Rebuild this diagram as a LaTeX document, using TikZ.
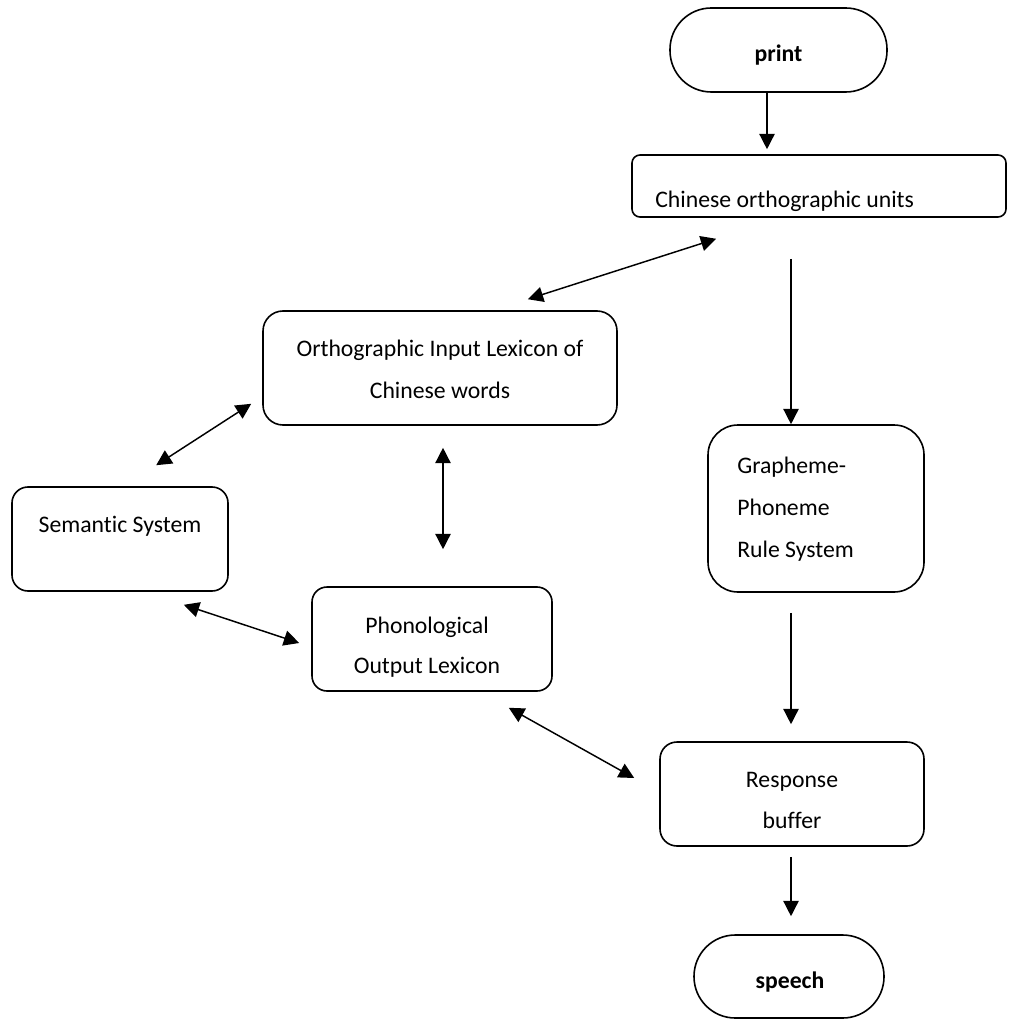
\documentclass[tikz,border=0pt]{standalone}
\usepackage{fontspec}
\setmainfont[Ligatures=NoCommon]{Carlito}
\usetikzlibrary{arrows.meta,calc}
\begin{document}
\begin{tikzpicture}[x=0.75pt,y=-0.75pt,
  box/.style={draw, line width=1.2pt, inner sep=0pt},
  txt/.style={inner sep=0pt, anchor=base, font=\fontsize{17.8}{21}\selectfont},
  txtl/.style={txt, anchor=base west},
  btxt/.style={txt, font=\fontsize{17.8}{21}\selectfont\bfseries},
  arr/.style={line width=1.1pt, -{Triangle[length=11.5pt,width=11.5pt]}},
  dbl/.style={line width=1.1pt, {Triangle[length=11.5pt,width=11.5pt]}-{Triangle[length=11.5pt,width=11.5pt]}}
]
\useasboundingbox (0,0) rectangle (1008,1019);
\fill[white] (0,0) rectangle (1008,1019);

% boxes
\node[box, rounded corners=31pt, minimum width=162.75pt, minimum height=63pt] (print) at (778.5,50) {};
\node[box, rounded corners=6pt, minimum width=280.5pt, minimum height=46.5pt] (cou) at (819,186) {};
\node[box, rounded corners=15pt, minimum width=265.5pt, minimum height=85.5pt] (oil) at (440,368) {};
\node[box, rounded corners=12pt, minimum width=162pt, minimum height=78pt] (sem) at (120,539) {};
\node[box, rounded corners=11.25pt, minimum width=180pt, minimum height=78pt] (phon) at (432,639) {};
\node[box, rounded corners=22.5pt, minimum width=162pt, minimum height=125.25pt] (gpc) at (816,508.5) {};
\node[box, rounded corners=12.75pt, minimum width=198pt, minimum height=78pt] (rb) at (792,794) {};
\node[box, rounded corners=31pt, minimum width=142.5pt, minimum height=62.25pt] (speech) at (789,976.5) {};

% texts
\node[btxt] (printT) at (778.5,62) {print};
\node[txtl] (couT) at (655,208) {Chinese orthographic units};
\node[txt] (oilT1) at (440,357) {Orthographic Input Lexicon of};
\node[txt] (oilT2) at (440,398) {Chinese words};
\node[txt] (semT) at (120,532) {Semantic System};
\node[txt] (phonT1) at (427,633) {Phonological};
\node[txt] (phonT2) at (427,673) {Output Lexicon};
\node[txtl] (gpcT1) at (737,473) {Grapheme-};
\node[txtl] (gpcT2) at (737,515) {Phoneme};
\node[txtl] (gpcT3) at (737,557) {Rule System};
\node[txt] (rbT1) at (792,787) {Response};
\node[txt] (rbT2) at (792,828) {buffer};
\node[btxt] (speechT) at (790,988) {speech};

% connectors
\draw[arr, shorten >=3.75pt] ([xshift=-8.625pt]print.south) -- ([xshift=-8.625pt]print.south |- cou.north);
\draw[dbl] ([shift={(85,21)}]cou.south west) -- ([shift={(-90,-11)}]oil.north east);
\coordinate (gx) at ([xshift=-18.75pt]gpc.north);
\draw[arr, shorten <=30.75pt] (gx |- cou.south) -- (gx);
\draw[arr, shorten <=15pt, shorten >=12.75pt] (gx |- gpc.south) -- (gx |- rb.north);
\draw[arr, shorten <=7.5pt, shorten >=13.5pt] (gx |- rb.south) -- (gx |- speech.north);
\draw[dbl] ([shift={(-11,-22)}]oil.south west) -- ([shift={(145,-21)}]sem.north west);
\draw[dbl, shorten <=16.5pt, shorten >=27.75pt] ([xshift=2.25pt]oil.south) -- ([xshift=2.25pt]oil.south |- phon.north);
\draw[dbl] ([shift={(-45,13)}]sem.south east) -- ([shift={(-12,4)}]phon.west);
\draw[dbl] ([shift={(-44,16)}]phon.south east) -- ([shift={(-25,-16)}]rb.west);
\end{tikzpicture}
\end{document}
